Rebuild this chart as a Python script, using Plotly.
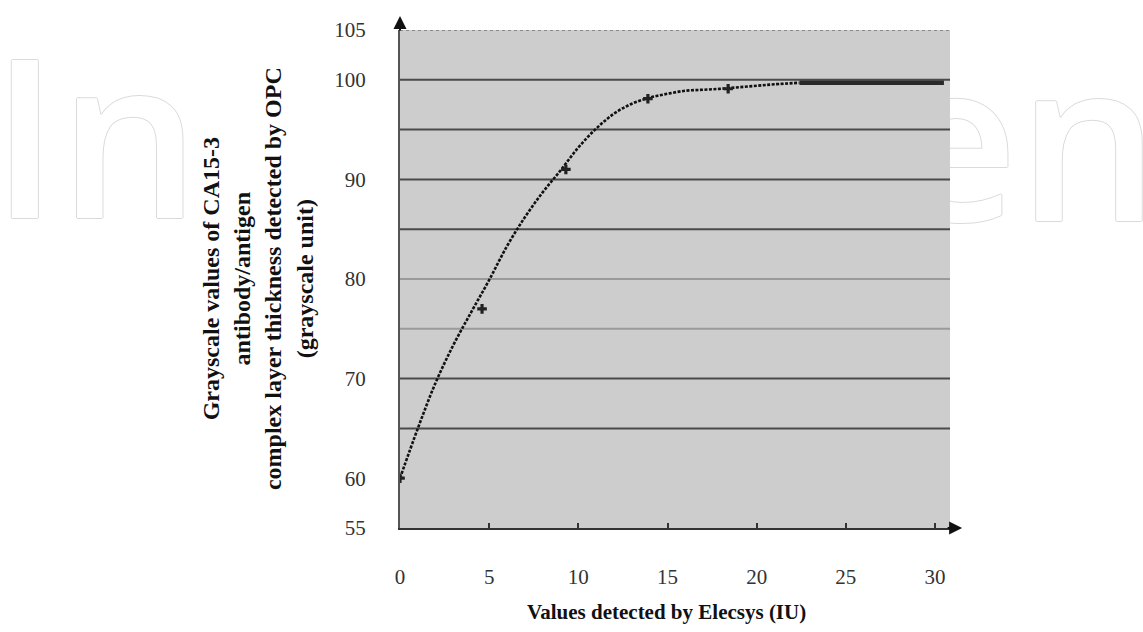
import plotly.graph_objects as go

# ---- data ----
point_x = [0, 4.6, 9.3, 13.9, 18.4]
point_y = [60, 77.0, 91.0, 98.1, 99.1]

curve_x = [0, 1, 2, 3, 4, 5, 6, 7, 8, 9, 10, 11, 12, 13, 14, 15, 16, 17, 18, 19, 20, 21, 22.4]
curve_y = [60, 65.0, 69.6, 73.4, 76.7, 79.9, 83.3, 86.2, 88.7, 90.9, 93.2, 95.1, 96.6, 97.6,
           98.2, 98.6, 98.9, 99.0, 99.1, 99.25, 99.4, 99.55, 99.7]

plateau_x = [22.4, 30.5]
plateau_y = [99.7, 99.7]

x_ticks = [0, 5, 10, 15, 20, 25, 30]
y_ticks = [55, 60, 70, 80, 90, 100, 105]
grid_dark = [65, 70, 85, 90, 95, 100]
grid_light = [75, 80]
X_RANGE = [0, 30.84]
Y_RANGE = [55, 105]

x_title = "Values detected by Elecsys (IU)"
y_title = ("Grayscale values of CA15-3<br>antibody/antigen<br>"
           "complex layer thickness detected by OPC<br>(grayscale unit)")

SERIF = "Liberation Serif, Times New Roman, serif"

fig = go.Figure()

# hidden base subplot (only provides a lower background so the watermark sits behind the chart)
fig.add_trace(go.Scatter(x=[None], y=[None], xaxis="x", yaxis="y", showlegend=False,
                         hoverinfo="skip"))

fig.add_trace(go.Scatter(
    x=curve_x, y=curve_y, mode="lines", xaxis="x2", yaxis="y2",
    line=dict(color="#111111", width=2.6, dash="3px,1.5px", shape="spline", smoothing=1),
    hoverinfo="skip", showlegend=False))
fig.add_trace(go.Scatter(
    x=plateau_x, y=plateau_y, mode="lines", xaxis="x2", yaxis="y2",
    line=dict(color="#2a2a2a", width=4.5),
    hoverinfo="skip", showlegend=False))
fig.add_trace(go.Scatter(
    x=point_x, y=point_y, mode="markers", xaxis="x2", yaxis="y2",
    marker=dict(symbol="cross", size=8, color="#222222"),
    showlegend=False))

outline = "#dadada"
shadow = f"1px 0 {outline}, -1px 0 {outline}, 0 1px {outline}, 0 -1px {outline}"
wm_font = dict(family="Open Sans", size=222, weight=600, color="white", shadow=shadow)

shapes = []
for g in grid_dark:
    shapes.append(dict(type="line", xref="x2", yref="y2", x0=X_RANGE[0], x1=X_RANGE[1], y0=g, y1=g,
                       line=dict(color="#4a4a4a", width=2), layer="below"))
for g in grid_light:
    shapes.append(dict(type="line", xref="x2", yref="y2", x0=X_RANGE[0], x1=X_RANGE[1], y0=g, y1=g,
                       line=dict(color="#9a9a9a", width=2), layer="below"))
shapes.append(dict(type="line", xref="x2", yref="y2", x0=X_RANGE[0], x1=X_RANGE[1],
                   y0=Y_RANGE[1], y1=Y_RANGE[1],
                   line=dict(color="#8a8a8a", width=2, dash="dot"), layer="below"))
# watermark right part, drawn under the chart background
shapes.append(dict(type="line", xref="paper", yref="paper", x0=0.9, x1=1.38, y0=1.062, y1=1.062,
                   line=dict(color="rgba(0,0,0,0)", width=1), layer="below",
                   label=dict(text="en", textposition="end", xanchor="right", yanchor="top",
                              padding=0, font=wm_font)))

annotations = [
    # watermark left part
    dict(text="In", xref="paper", yref="paper", x=-0.748, y=1.102, xanchor="left", yanchor="top",
         showarrow=False, font=wm_font),
    # y title
    dict(text=y_title, xref="paper", yref="paper", x=-0.258, y=0.5, xanchor="center", yanchor="middle",
         textangle=-90, showarrow=False, align="center",
         font=dict(family=SERIF, size=24, color="#111111", weight="bold")),
    # x title
    dict(text=x_title, xref="paper", yref="paper", x=0.485, y=-0.168, xanchor="center", yanchor="middle",
         showarrow=False, font=dict(family=SERIF, size=21, color="#111111", weight="bold")),
    # axis arrows
    dict(xref="paper", yref="paper", x=0, y=1.028, ax=0, ay=16, text="", showarrow=True,
         arrowhead=2, arrowsize=1.3, arrowwidth=2, arrowcolor="#111111"),
    dict(xref="paper", yref="paper", x=1.022, y=0, ax=-16, ay=0, text="", showarrow=True,
         arrowhead=2, arrowsize=1.3, arrowwidth=2, arrowcolor="#111111"),
]

fig.update_layout(
    width=1143, height=632,
    margin=dict(l=400, r=193, t=30, b=104, autoexpand=False),
    paper_bgcolor="white", plot_bgcolor="#cdcdcd",
    shapes=shapes, annotations=annotations,
    xaxis=dict(visible=False, domain=[0, 1], range=X_RANGE, anchor="y"),
    yaxis=dict(visible=False, domain=[0, 1], range=Y_RANGE, anchor="x"),
    xaxis2=dict(domain=[0, 1], anchor="y2", range=X_RANGE, tickvals=x_ticks,
                ticktext=[str(v) for v in x_ticks],
                showgrid=False, zeroline=False, showline=True, linecolor="#333333", linewidth=2,
                ticks="inside", ticklen=5, tickwidth=2, tickcolor="#333333",
                ticklabelstandoff=29,
                tickfont=dict(family=SERIF, size=21, color="#333333")),
    yaxis2=dict(domain=[0, 1], anchor="x2", range=Y_RANGE, tickvals=y_ticks,
                ticktext=[str(v) for v in y_ticks],
                showgrid=False, zeroline=False, showline=True, linecolor="#555555", linewidth=2,
                ticks="", ticklabelstandoff=28,
                tickfont=dict(family=SERIF, size=21, color="#333333")),
)

fig.write_html("out.html", config={"displayModeBar": False},
               post_script="document.body.style.margin='0';")
